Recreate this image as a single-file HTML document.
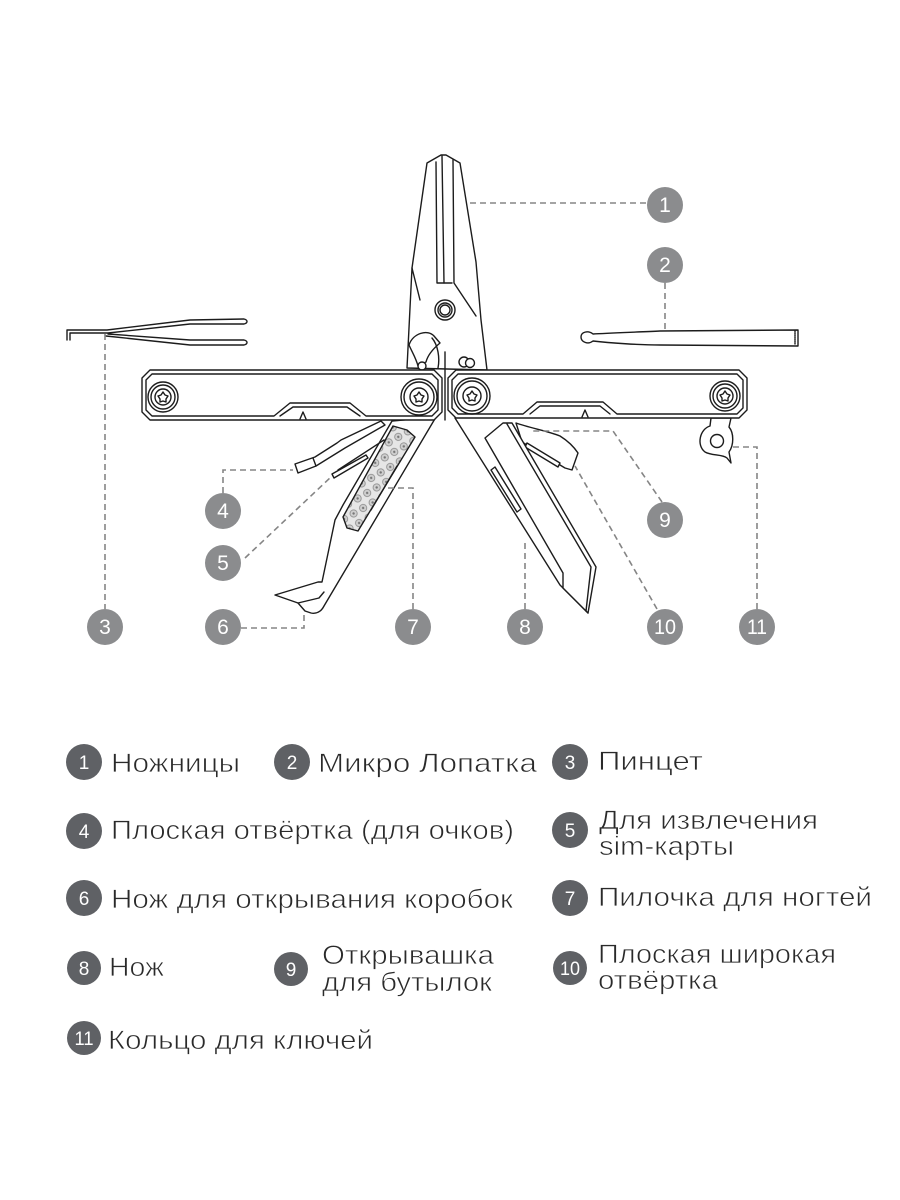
<!DOCTYPE html>
<html>
<head>
<meta charset="utf-8">
<style>
html,body{margin:0;padding:0;background:#fff;}
svg{display:block;}
.t{font-family:"Liberation Sans","DejaVu Sans",sans-serif;fill:#2a2a2a;font-size:27px;stroke:#fff;stroke-width:0.7px;paint-order:normal;}
.n{font-family:"Liberation Sans","DejaVu Sans",sans-serif;fill:#fff;font-size:21px;text-anchor:middle;}
.ln{fill:none;stroke:#1c1c1c;stroke-width:1.4;stroke-linejoin:round;stroke-linecap:round;}
.sh{fill:#fff;stroke:#1c1c1c;stroke-width:1.4;stroke-linejoin:round;}
.d{fill:none;stroke:#858585;stroke-width:1.6;stroke-dasharray:6 4;}
</style>
</head>
<body>
<svg width="900" height="1200" viewBox="0 0 900 1200" xmlns="http://www.w3.org/2000/svg">
<defs>
<pattern id="dots" width="11" height="11" patternUnits="userSpaceOnUse" patternTransform="rotate(-30)">
<rect width="11" height="11" fill="#e6e6e6"/>
<circle cx="5.5" cy="5.5" r="3.6" fill="#d0d0d0" stroke="#8a8a8a" stroke-width="0.8"/>
<circle cx="5.5" cy="5.5" r="1.2" fill="#777"/>
</pattern>
</defs>

<!-- ===== Scissors ===== -->
<path class="sh" d="M407,368 L412,268 L427,163 L441,155 L446,155 L460,163 L476,262 L481,320 L487,370 Z"/>
<path class="ln" d="M436,162 L437,283 L452,283"/>
<path class="ln" d="M442,156 L444,283"/>
<path class="ln" d="M453,160 L454,283 L476,316"/>
<path class="ln" d="M412,268 L420,300"/>
<circle class="sh" cx="445" cy="310" r="10"/>
<circle class="ln" cx="445" cy="310" r="7"/>
<circle class="ln" cx="445" cy="310" r="5"/>
<path class="sh" d="M409,345 C413,333 428,329 434,336 L440,343 C434,348 428,354 426,362 L418,366 C416,358 412,352 409,345 Z"/>
<path class="ln" d="M432,338 C438,345 440,358 438,368"/>
<circle class="sh" cx="422" cy="366" r="4"/>
<circle class="sh" cx="464" cy="362" r="5"/>
<circle class="sh" cx="470" cy="363" r="4.5"/>
<path class="ln" d="M445,352 L445,420"/>

<!-- ===== Tweezers ===== -->
<path class="ln" d="M67,340 L67,330 L107,330 L190,320 L244,319 C248,320 248,323 244,324 L190,324 L108,333 L70,333 L70,340"/>
<path class="ln" d="M108,334 L190,340 L244,340 C248,341 248,344 244,345 L190,345 L106,336"/>

<!-- ===== Micro spatula ===== -->
<path class="sh" d="M593,334 C588,330 581,332 581,337 C581,342 588,345 593,341 C610,343 640,345 660,345 L798,346 L798,330 L660,331 C640,332 610,333 593,334 Z"/>
<path class="ln" d="M795,331 L795,345" style="stroke-dasharray:1 1"/>

<!-- ===== Left body (tools 6/7) ===== -->
<path class="sh" d="M436,417 L324,606 C321,612 316,614 311,613 L305,611 L298,603 L275,595 L318,582 L322,582 L335,520 L343,505 L392,421 Z"/>
<path class="ln" d="M298,603 L319,598 L324,592"/>
<!-- file -->
<path d="M393,426 L407,430 L415,437 L358,531 L347,528 L343,517 Z" fill="url(#dots)" stroke="#1c1c1c" stroke-width="1.4" stroke-linejoin="round"/>
<path class="ln" d="M397,466 L371,510"/>
<!-- tool 4 -->
<path class="sh" d="M295,464 L315,457 L337,443 L341,440 L381,421 L385,425 L345,448 L316,466 L298,473 Z"/>
<path class="ln" d="M313,458 L316,466"/>
<!-- tool 5 sim -->
<path class="sh" d="M332,474 L366,455 L368,458 L334,478 Z"/>
<path class="ln" d="M338,470 L384,440"/>

<!-- ===== Right body: knife, opener ===== -->
<path class="ln" d="M455,418 L560,585 L588,613"/>
<path class="sh" d="M516,423 C530,428 548,431 560,436 C568,441 574,447 578,453 L572,470 L565,468 L522,442 Z"/>
<path class="sh" d="M527,443 L560,463 L558,467 L525,447 Z"/>
<path class="sh" d="M485,438 L503,423 L512,423 L596,567 L588,613 L563,588 L563,573 Z"/>
<path class="ln" d="M507,424 L591,567 L586,611"/>
<path class="sh" d="M491,470 L517,512 L521,509 L495,467 Z"/>

<!-- ===== Key ring ===== -->
<path class="sh" d="M711,418 L710,426 C700,429 696,445 705,452 C712,456 722,454 727,458 L731,463 L729,452 C734,445 734,433 729,427 L731,418 Z"/>
<circle class="sh" cx="717" cy="441" r="6.5"/>

<!-- ===== Left handle ===== -->
<path class="sh" d="M150,370 L434,370 L442,378 L442,412 L434,420 L150,420 L142,412 L142,378 Z"/>
<path class="ln" d="M152,374 L432,374 L438,380 L438,410 L432,416 L366,416 L350,403 L290,403 L274,416 L152,416 L146,410 L146,380 Z"/>
<path class="ln" d="M280,416 L293,407 L347,407 L360,416"/>
<path class="ln" d="M300,419 L303,412 L306,419"/>
<circle class="ln" cx="163" cy="397" r="15"/>
<circle class="ln" cx="163" cy="397" r="12"/>
<circle class="ln" cx="163" cy="397" r="8"/>
<path class="ln" d="M163,392 L165,395 L168,396 L166,399 L166,402 L163,401 L160,402 L160,399 L158,396 L161,395 Z"/>
<circle class="ln" cx="419" cy="397" r="18"/>
<circle class="ln" cx="419" cy="397" r="15"/>
<circle class="ln" cx="419" cy="397" r="9"/>
<path class="ln" d="M419,392 L421,395 L424,396 L422,399 L422,402 L419,401 L416,402 L416,399 L414,396 L417,395 Z"/>

<!-- ===== Right handle ===== -->
<path class="sh" d="M456,370 L739,370 L747,378 L747,410 L739,418 L456,418 L448,410 L448,378 Z"/>
<path class="ln" d="M458,374 L737,374 L743,380 L743,408 L737,414 L617,414 L603,402 L537,402 L523,414 L458,414 L452,408 L452,380 Z"/>
<path class="ln" d="M530,414 L540,406 L600,406 L610,414"/>
<path class="ln" d="M582,417 L585,410 L588,417"/>
<circle class="ln" cx="472" cy="396" r="18"/>
<circle class="ln" cx="472" cy="396" r="15"/>
<circle class="ln" cx="472" cy="396" r="9"/>
<path class="ln" d="M472,391 L474,394 L477,395 L475,398 L475,401 L472,400 L469,401 L469,398 L467,395 L470,394 Z"/>
<circle class="ln" cx="725" cy="396" r="15"/>
<circle class="ln" cx="725" cy="396" r="12"/>
<circle class="ln" cx="725" cy="396" r="8"/>
<path class="ln" d="M725,391 L727,394 L730,395 L728,398 L728,401 L725,400 L722,401 L722,398 L720,395 L723,394 Z"/>

<!-- ===== Connectors ===== -->
<path class="d" d="M470,203 L647,203"/>
<path class="d" d="M665,283 L665,329"/>
<path class="d" d="M105,334 L105,609"/>
<path class="d" d="M223,493 L223,470 L293,470"/>
<path class="d" d="M245,558 L331,477"/>
<path class="d" d="M241,628 L304,628 L304,612"/>
<path class="d" d="M413,609 L413,488 L388,488"/>
<path class="d" d="M525,609 L525,543"/>
<path class="d" d="M662,502 L613,431 L533,431"/>
<path class="d" d="M657,609 L575,466"/>
<path class="d" d="M757,609 L757,447 L732,447"/>

<!-- ===== Diagram labels ===== -->
<g fill="#8b8c8e">
<circle cx="665" cy="205" r="18"/>
<circle cx="665" cy="265" r="18"/>
<circle cx="105" cy="627" r="18"/>
<circle cx="223" cy="511" r="18"/>
<circle cx="223" cy="563" r="18"/>
<circle cx="223" cy="627" r="18"/>
<circle cx="413" cy="627" r="18"/>
<circle cx="525" cy="627" r="18"/>
<circle cx="665" cy="520" r="18"/>
<circle cx="665" cy="627" r="18"/>
<circle cx="757" cy="627" r="18"/>
</g>
<text class="n" x="665" y="212">1</text>
<text class="n" x="665" y="272">2</text>
<text class="n" x="105" y="634">3</text>
<text class="n" x="223" y="518">4</text>
<text class="n" x="223" y="570">5</text>
<text class="n" x="223" y="634">6</text>
<text class="n" x="413" y="634">7</text>
<text class="n" x="525" y="634">8</text>
<text class="n" x="665" y="527">9</text>
<text class="n" x="665" y="634" textLength="22" lengthAdjust="spacingAndGlyphs">10</text>
<text class="n" x="757" y="634" textLength="20" lengthAdjust="spacingAndGlyphs">11</text>

<!-- ===== Legend ===== -->
<g fill="#5f6165">
<circle cx="84" cy="762" r="18"/>
<circle cx="292" cy="762" r="18"/>
<circle cx="570" cy="762" r="18"/>
<circle cx="84" cy="831" r="18"/>
<circle cx="570" cy="830" r="18"/>
<circle cx="84" cy="898" r="18"/>
<circle cx="570" cy="898" r="18"/>
<circle cx="84" cy="968" r="17"/>
<circle cx="291" cy="969" r="17"/>
<circle cx="570" cy="968" r="17"/>
<circle cx="84" cy="1038" r="17"/>
</g>
<text class="n" x="84" y="769" style="font-size:19px">1</text>
<text class="n" x="292" y="769" style="font-size:19px">2</text>
<text class="n" x="570" y="769" style="font-size:19px">3</text>
<text class="n" x="84" y="838" style="font-size:19px">4</text>
<text class="n" x="570" y="837" style="font-size:19px">5</text>
<text class="n" x="84" y="905" style="font-size:19px">6</text>
<text class="n" x="570" y="905" style="font-size:19px">7</text>
<text class="n" x="84" y="975" style="font-size:19px">8</text>
<text class="n" x="291" y="976" style="font-size:19px">9</text>
<text class="n" x="570" y="975" style="font-size:19px" textLength="20" lengthAdjust="spacingAndGlyphs">10</text>
<text class="n" x="84" y="1045" style="font-size:19px" textLength="19" lengthAdjust="spacingAndGlyphs">11</text>

<text class="t" x="111" y="772" textLength="129" lengthAdjust="spacingAndGlyphs">Ножницы</text>
<text class="t" x="318" y="772" textLength="219" lengthAdjust="spacingAndGlyphs">Микро Лопатка</text>
<text class="t" x="598" y="770" textLength="105" lengthAdjust="spacingAndGlyphs">Пинцет</text>
<text class="t" x="111" y="839" textLength="403" lengthAdjust="spacingAndGlyphs">Плоская отвёртка (для очков)</text>
<text class="t" x="599" y="829" textLength="219" lengthAdjust="spacingAndGlyphs">Для извлечения</text>
<text class="t" x="599" y="855" textLength="135" lengthAdjust="spacingAndGlyphs">sim-карты</text>
<text class="t" x="111" y="908" textLength="402" lengthAdjust="spacingAndGlyphs">Нож для открывания коробок</text>
<text class="t" x="598" y="906" textLength="274" lengthAdjust="spacingAndGlyphs">Пилочка для ногтей</text>
<text class="t" x="109" y="976" textLength="55" lengthAdjust="spacingAndGlyphs">Нож</text>
<text class="t" x="322" y="964" textLength="172" lengthAdjust="spacingAndGlyphs">Открывашка</text>
<text class="t" x="322" y="991" textLength="170" lengthAdjust="spacingAndGlyphs">для бутылок</text>
<text class="t" x="598" y="963" textLength="238" lengthAdjust="spacingAndGlyphs">Плоская широкая</text>
<text class="t" x="598" y="989" textLength="120" lengthAdjust="spacingAndGlyphs">отвёртка</text>
<text class="t" x="108" y="1049" textLength="265" lengthAdjust="spacingAndGlyphs">Кольцо для ключей</text>
</svg>
</body>
</html>
